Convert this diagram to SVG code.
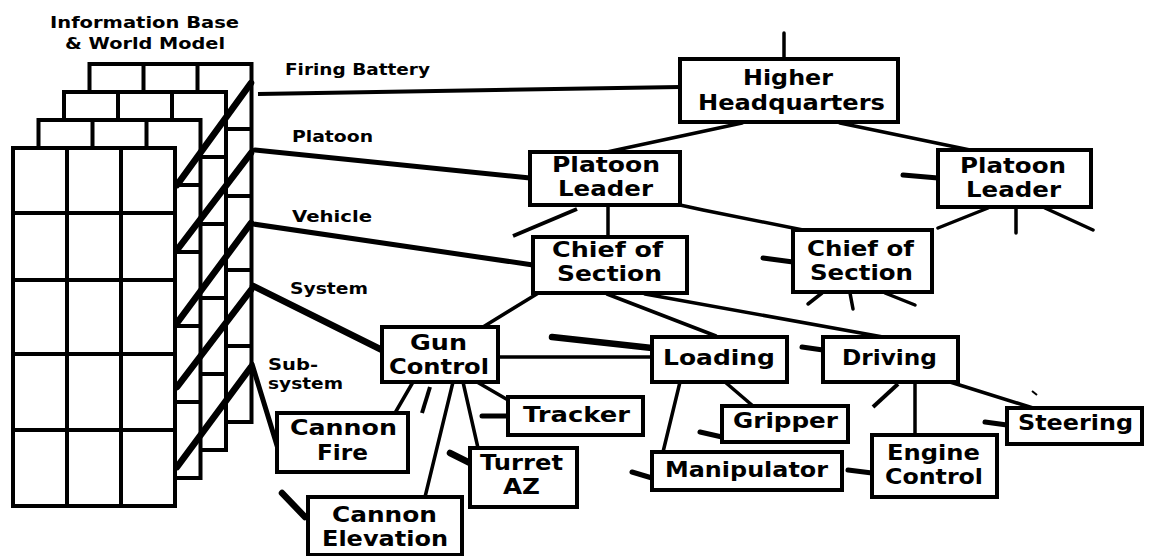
<svg xmlns="http://www.w3.org/2000/svg" xmlns:xlink="http://www.w3.org/1999/xlink" width="1155" height="556" viewBox="0 0 1155 556">
<style>
.bx{fill:#fff;stroke:#000;stroke-width:4}
.nt{font-family:"DejaVu Sans","Liberation Sans",sans-serif;font-weight:bold;font-size:22px;fill:#000}
.lb{font-family:"DejaVu Sans","Liberation Sans",sans-serif;font-weight:bold;font-size:16px;fill:#000}
.c{stroke:#000;stroke-width:3.5;stroke-linecap:round;fill:none}
.h{stroke:#000;stroke-width:5;stroke-linecap:round;fill:none}
.hh{stroke:#000;stroke-width:6.5;stroke-linecap:round;fill:none}
.g{stroke:#000;stroke-width:4;fill:none}
</style>
<defs>
<g id="layer">
<rect x="13" y="148" width="162" height="358" fill="#fff" stroke="#000" stroke-width="4"/>
<path class="g" d="M67 148V506M121 148V506M13 213H175M13 280H175M13 354H175M13 430H175"/>
</g>
</defs>
<rect width="1155" height="556" fill="#fff"/>

<g id="info-base">
<use xlink:href="#layer" href="#layer" x="76.5" y="-84"/>
<use xlink:href="#layer" href="#layer" x="51" y="-56"/>
<use xlink:href="#layer" href="#layer" x="25.5" y="-28"/>
<use xlink:href="#layer" href="#layer" x="0" y="0"/>
<path class="hh" d="M251 83L177 185M251 153L177 250M251 223L177 323M251 290L177 387M251 367L177 467"/>
<text class="lb" x="50" y="28" textLength="189" lengthAdjust="spacingAndGlyphs">Information Base</text>
<text class="lb" x="65" y="49" textLength="160" lengthAdjust="spacingAndGlyphs">&amp; World Model</text>
</g>

<g id="level-labels">
<text class="lb" x="285" y="75" textLength="145" lengthAdjust="spacingAndGlyphs">Firing Battery</text>
<text class="lb" x="292" y="142" textLength="81" lengthAdjust="spacingAndGlyphs">Platoon</text>
<text class="lb" x="292" y="222" textLength="80" lengthAdjust="spacingAndGlyphs">Vehicle</text>
<text class="lb" x="290" y="294" textLength="78" lengthAdjust="spacingAndGlyphs">System</text>
<text class="lb" x="268" y="370" textLength="50" lengthAdjust="spacingAndGlyphs">Sub-</text>
<text class="lb" x="268" y="389" textLength="75" lengthAdjust="spacingAndGlyphs">system</text>
</g>

<g id="connectors">
<path class="g" d="M258 94L680 87"/>
<path class="h" d="M255 150L530 178"/>
<path class="h" d="M253 224L533 265"/>
<path class="hh" d="M253 286L382 350"/>
<path class="h" d="M252 364L279 452"/>
<path class="c" d="M784 33V59"/>
<path class="c" d="M742 123L607 152"/>
<path class="c" d="M840 123L970 150"/>
<path class="h" d="M903 175L938 178"/>
<path class="c" d="M988 208L938 228M1016 208V233M1045 208L1093 230"/>
<path class="g" d="M513 236L577 209"/>
<path class="c" d="M608 205V237"/>
<path class="c" d="M680 205L703 210L803 230"/>
<path class="h" d="M763 258L793 262"/>
<path class="c" d="M822 293L808 304M850 293L853 309M885 293L915 305"/>
<path class="c" d="M540 292L483 327"/>
<path class="c" d="M607 294L716 336"/>
<path class="c" d="M645 294L883 337"/>
<path class="c" d="M498 357H652"/>
<path class="hh" d="M552 337L652 348"/>
<path class="h" d="M802 347L823 350"/>
<path class="c" d="M725 382L753 406"/>
<path class="h" d="M700 432L722 437"/>
<path class="c" d="M680 382L663 452"/>
<path class="h" d="M632 472L652 478"/>
<path class="h" d="M848 470L872 473"/>
<path class="c" d="M915 382V435"/>
<path class="g" d="M898 384L873 407"/>
<path class="c" d="M950 382L1033 408"/>
<path stroke="#000" stroke-width="2" d="M1032 391L1037 395"/>
<path class="h" d="M985 422L1007 425"/>
<path class="c" d="M413 382L395 413"/>
<path class="g" d="M430 387L422 413"/>
<path class="c" d="M453 382L425 497"/>
<path class="hh" d="M282 493L305 517"/>
<path class="c" d="M463 382L478 448"/>
<path class="hh" d="M450 453L470 463"/>
<path class="c" d="M477 382L508 400"/>
<path class="h" d="M482 416H508"/>
</g>

<g id="higher-headquarters">
<rect class="bx" x="680" y="59" width="218" height="63"/>
<text class="nt" x="743" y="85" textLength="90" lengthAdjust="spacingAndGlyphs">Higher</text>
<text class="nt" x="698" y="110" textLength="187" lengthAdjust="spacingAndGlyphs">Headquarters</text>
</g>
<g id="platoon-leader-1">
<rect class="bx" x="530" y="152" width="150" height="53"/>
<text class="nt" x="552" y="172" textLength="108" lengthAdjust="spacingAndGlyphs">Platoon</text>
<text class="nt" x="558" y="196" textLength="95" lengthAdjust="spacingAndGlyphs">Leader</text>
</g>
<g id="platoon-leader-2">
<rect class="bx" x="938" y="150" width="153" height="57"/>
<text class="nt" x="960" y="173" textLength="106" lengthAdjust="spacingAndGlyphs">Platoon</text>
<text class="nt" x="966" y="197" textLength="95" lengthAdjust="spacingAndGlyphs">Leader</text>
</g>
<g id="chief-of-section-1">
<rect class="bx" x="533" y="237" width="154" height="56"/>
<text class="nt" x="552" y="257" textLength="111" lengthAdjust="spacingAndGlyphs">Chief of</text>
<text class="nt" x="557" y="281" textLength="105" lengthAdjust="spacingAndGlyphs">Section</text>
</g>
<g id="chief-of-section-2">
<rect class="bx" x="793" y="230" width="139" height="62"/>
<text class="nt" x="807" y="256" textLength="107" lengthAdjust="spacingAndGlyphs">Chief of</text>
<text class="nt" x="810" y="280" textLength="103" lengthAdjust="spacingAndGlyphs">Section</text>
</g>
<g id="gun-control">
<rect class="bx" x="382" y="327" width="116" height="55"/>
<text class="nt" x="410" y="350" textLength="57" lengthAdjust="spacingAndGlyphs">Gun</text>
<text class="nt" x="389" y="374" textLength="100" lengthAdjust="spacingAndGlyphs">Control</text>
</g>
<g id="cannon-fire">
<rect class="bx" x="277" y="413" width="131" height="59"/>
<text class="nt" x="290" y="435" textLength="107" lengthAdjust="spacingAndGlyphs">Cannon</text>
<text class="nt" x="317" y="460" textLength="51" lengthAdjust="spacingAndGlyphs">Fire</text>
</g>
<g id="tracker">
<rect class="bx" x="508" y="397" width="135" height="38"/>
<text class="nt" x="523" y="422" textLength="107" lengthAdjust="spacingAndGlyphs">Tracker</text>
</g>
<g id="turret-az">
<rect class="bx" x="470" y="448" width="107" height="59"/>
<text class="nt" x="480" y="470" textLength="83" lengthAdjust="spacingAndGlyphs">Turret</text>
<text class="nt" x="503" y="494" textLength="37" lengthAdjust="spacingAndGlyphs">AZ</text>
</g>
<g id="cannon-elevation">
<rect class="bx" x="308" y="497" width="154" height="58"/>
<text class="nt" x="332" y="522" textLength="105" lengthAdjust="spacingAndGlyphs">Cannon</text>
<text class="nt" x="322" y="546" textLength="126" lengthAdjust="spacingAndGlyphs">Elevation</text>
</g>
<g id="loading">
<rect class="bx" x="652" y="337" width="135" height="45"/>
<text class="nt" x="663" y="365" textLength="112" lengthAdjust="spacingAndGlyphs">Loading</text>
</g>
<g id="driving">
<rect class="bx" x="823" y="337" width="135" height="45"/>
<text class="nt" x="842" y="365" textLength="95" lengthAdjust="spacingAndGlyphs">Driving</text>
</g>
<g id="gripper">
<rect class="bx" x="722" y="406" width="126" height="36"/>
<text class="nt" x="733" y="428" textLength="105" lengthAdjust="spacingAndGlyphs">Gripper</text>
</g>
<g id="manipulator">
<rect class="bx" x="652" y="452" width="190" height="38"/>
<text class="nt" x="665" y="477" textLength="163" lengthAdjust="spacingAndGlyphs">Manipulator</text>
</g>
<g id="engine-control">
<rect class="bx" x="872" y="435" width="125" height="62"/>
<text class="nt" x="887" y="460" textLength="93" lengthAdjust="spacingAndGlyphs">Engine</text>
<text class="nt" x="885" y="484" textLength="98" lengthAdjust="spacingAndGlyphs">Control</text>
</g>
<g id="steering">
<rect class="bx" x="1007" y="408" width="135" height="36"/>
<text class="nt" x="1018" y="430" textLength="115" lengthAdjust="spacingAndGlyphs">Steering</text>
</g>
</svg>
